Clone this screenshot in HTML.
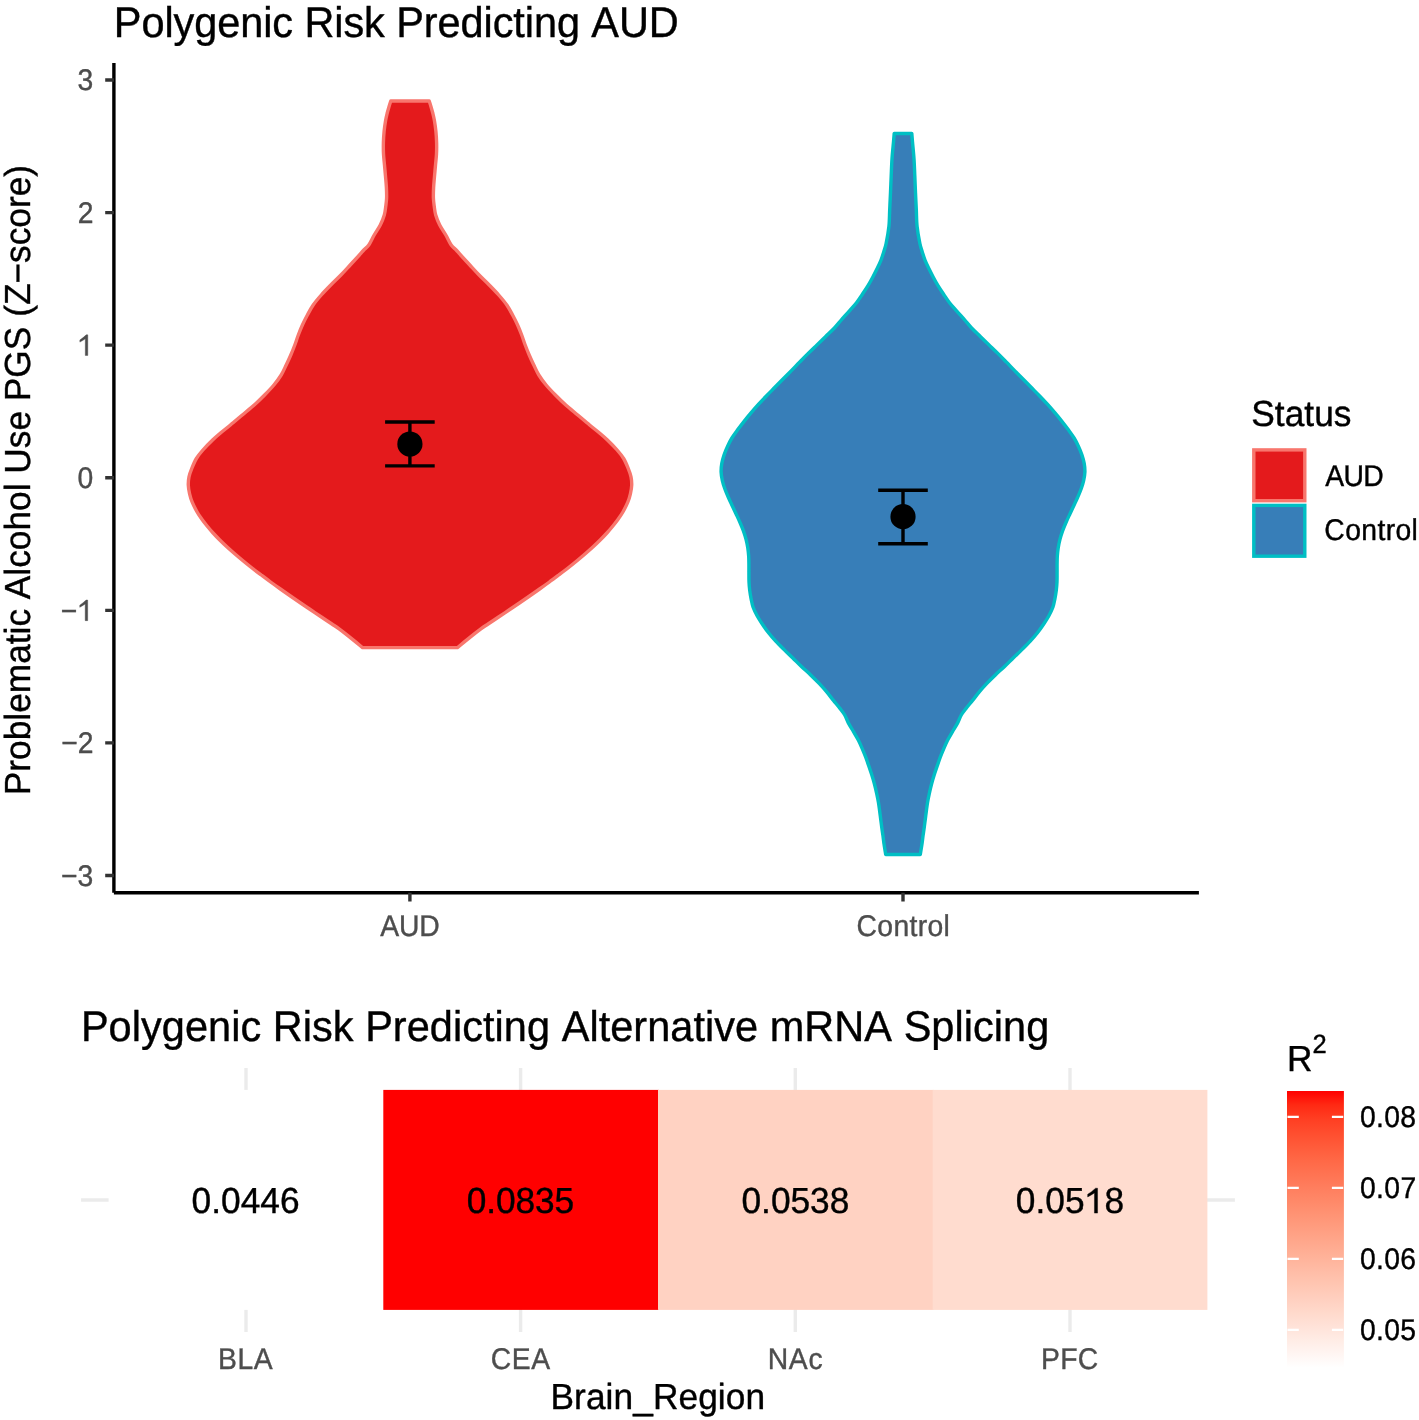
<!DOCTYPE html>
<html><head><meta charset="utf-8"><style>
html,body{margin:0;padding:0;background:#fff;overflow:hidden;}
svg{display:block;font-family:"Liberation Sans",sans-serif;text-rendering:geometricPrecision;will-change:transform;font-kerning:none;}
</style></head><body>
<svg xmlns="http://www.w3.org/2000/svg" width="1419" height="1420" viewBox="0 0 1419 1420">
<rect width="1419" height="1420" fill="#fff"/>
<text transform="translate(113.80,36.70) scale(1,1.033)" font-size="41.5" fill="#000" textLength="564.99" lengthAdjust="spacing" stroke="#000" stroke-width="0.387">Polygenic Risk Predicting AUD</text>
<path d="M429.20,101.00 C429.50,101.95 430.38,104.62 431.00,106.70 C431.62,108.78 432.33,111.20 432.90,113.50 C433.47,115.80 433.90,117.53 434.40,120.50 C434.90,123.47 435.53,127.63 435.90,131.30 C436.27,134.97 436.50,138.75 436.60,142.50 C436.70,146.25 436.68,150.03 436.50,153.80 C436.32,157.57 435.83,161.35 435.50,165.10 C435.17,168.85 434.82,172.55 434.50,176.30 C434.18,180.05 433.78,183.98 433.60,187.60 C433.42,191.22 433.30,194.93 433.40,198.00 C433.50,201.07 433.82,203.17 434.20,206.00 C434.58,208.83 434.78,211.83 435.70,215.00 C436.62,218.17 438.02,221.67 439.70,225.00 C441.38,228.33 443.88,231.67 445.80,235.00 C447.72,238.33 449.47,242.50 451.20,245.00 C452.93,247.50 454.63,248.33 456.20,250.00 C457.77,251.67 458.33,252.50 460.60,255.00 C462.87,257.50 466.72,261.67 469.80,265.00 C472.88,268.33 475.87,271.67 479.10,275.00 C482.33,278.33 485.93,281.67 489.20,285.00 C492.47,288.33 495.77,291.67 498.70,295.00 C501.63,298.33 504.48,301.67 506.80,305.00 C509.12,308.33 510.80,311.67 512.60,315.00 C514.40,318.33 516.08,321.67 517.60,325.00 C519.12,328.33 520.43,331.67 521.70,335.00 C522.97,338.33 523.95,341.67 525.20,345.00 C526.45,348.33 527.77,351.67 529.20,355.00 C530.63,358.33 532.20,361.67 533.80,365.00 C535.40,368.33 536.75,371.67 538.80,375.00 C540.85,378.33 543.33,381.67 546.10,385.00 C548.87,388.33 552.12,391.67 555.40,395.00 C558.68,398.33 562.08,401.67 565.80,405.00 C569.52,408.33 573.73,411.67 577.70,415.00 C581.67,418.33 585.97,422.00 589.60,425.00 C593.23,428.00 596.53,430.50 599.50,433.00 C602.47,435.50 604.47,437.17 607.40,440.00 C610.33,442.83 614.40,446.92 617.10,450.00 C619.80,453.08 621.75,455.43 623.60,458.50 C625.45,461.57 626.97,465.33 628.20,468.40 C629.43,471.47 630.42,474.08 631.00,476.90 C631.58,479.72 631.80,482.48 631.70,485.30 C631.60,488.12 631.05,490.98 630.40,493.80 C629.75,496.62 629.05,499.17 627.80,502.20 C626.55,505.23 624.48,509.20 622.90,512.00 C621.32,514.80 619.97,516.67 618.30,519.00 C616.63,521.33 614.80,523.67 612.90,526.00 C611.00,528.33 609.02,530.67 606.90,533.00 C604.78,535.33 602.53,537.67 600.20,540.00 C597.87,542.33 595.43,544.67 592.90,547.00 C590.37,549.33 587.70,551.67 585.00,554.00 C582.30,556.33 579.53,558.67 576.70,561.00 C573.87,563.33 570.98,565.67 568.00,568.00 C565.02,570.33 561.90,572.67 558.80,575.00 C555.70,577.33 552.60,579.67 549.40,582.00 C546.20,584.33 542.90,586.67 539.60,589.00 C536.30,591.33 532.97,593.67 529.60,596.00 C526.23,598.33 522.83,600.67 519.40,603.00 C515.97,605.33 512.47,607.67 509.00,610.00 C505.53,612.33 502.08,614.67 498.60,617.00 C495.12,619.33 491.05,622.02 488.10,624.00 C485.15,625.98 483.72,626.83 480.90,628.90 C478.08,630.97 475.12,633.28 471.20,636.40 C467.28,639.52 459.70,645.73 457.40,647.60 L362.60,647.60 C360.30,645.73 352.72,639.52 348.80,636.40 C344.88,633.28 341.92,630.97 339.10,628.90 C336.28,626.83 334.85,625.98 331.90,624.00 C328.95,622.02 324.88,619.33 321.40,617.00 C317.92,614.67 314.47,612.33 311.00,610.00 C307.53,607.67 304.03,605.33 300.60,603.00 C297.17,600.67 293.77,598.33 290.40,596.00 C287.03,593.67 283.70,591.33 280.40,589.00 C277.10,586.67 273.80,584.33 270.60,582.00 C267.40,579.67 264.30,577.33 261.20,575.00 C258.10,572.67 254.98,570.33 252.00,568.00 C249.02,565.67 246.13,563.33 243.30,561.00 C240.47,558.67 237.70,556.33 235.00,554.00 C232.30,551.67 229.63,549.33 227.10,547.00 C224.57,544.67 222.13,542.33 219.80,540.00 C217.47,537.67 215.22,535.33 213.10,533.00 C210.98,530.67 209.00,528.33 207.10,526.00 C205.20,523.67 203.37,521.33 201.70,519.00 C200.03,516.67 198.68,514.80 197.10,512.00 C195.52,509.20 193.45,505.23 192.20,502.20 C190.95,499.17 190.25,496.62 189.60,493.80 C188.95,490.98 188.40,488.12 188.30,485.30 C188.20,482.48 188.42,479.72 189.00,476.90 C189.58,474.08 190.57,471.47 191.80,468.40 C193.03,465.33 194.55,461.57 196.40,458.50 C198.25,455.43 200.20,453.08 202.90,450.00 C205.60,446.92 209.67,442.83 212.60,440.00 C215.53,437.17 217.53,435.50 220.50,433.00 C223.47,430.50 226.77,428.00 230.40,425.00 C234.03,422.00 238.33,418.33 242.30,415.00 C246.27,411.67 250.48,408.33 254.20,405.00 C257.92,401.67 261.32,398.33 264.60,395.00 C267.88,391.67 271.13,388.33 273.90,385.00 C276.67,381.67 279.15,378.33 281.20,375.00 C283.25,371.67 284.60,368.33 286.20,365.00 C287.80,361.67 289.37,358.33 290.80,355.00 C292.23,351.67 293.55,348.33 294.80,345.00 C296.05,341.67 297.03,338.33 298.30,335.00 C299.57,331.67 300.88,328.33 302.40,325.00 C303.92,321.67 305.60,318.33 307.40,315.00 C309.20,311.67 310.88,308.33 313.20,305.00 C315.52,301.67 318.37,298.33 321.30,295.00 C324.23,291.67 327.53,288.33 330.80,285.00 C334.07,281.67 337.67,278.33 340.90,275.00 C344.13,271.67 347.12,268.33 350.20,265.00 C353.28,261.67 357.13,257.50 359.40,255.00 C361.67,252.50 362.23,251.67 363.80,250.00 C365.37,248.33 367.07,247.50 368.80,245.00 C370.53,242.50 372.28,238.33 374.20,235.00 C376.12,231.67 378.62,228.33 380.30,225.00 C381.98,221.67 383.38,218.17 384.30,215.00 C385.22,211.83 385.42,208.83 385.80,206.00 C386.18,203.17 386.50,201.07 386.60,198.00 C386.70,194.93 386.58,191.22 386.40,187.60 C386.22,183.98 385.82,180.05 385.50,176.30 C385.18,172.55 384.83,168.85 384.50,165.10 C384.17,161.35 383.68,157.57 383.50,153.80 C383.32,150.03 383.30,146.25 383.40,142.50 C383.50,138.75 383.73,134.97 384.10,131.30 C384.47,127.63 385.10,123.47 385.60,120.50 C386.10,117.53 386.53,115.80 387.10,113.50 C387.67,111.20 388.38,108.78 389.00,106.70 C389.62,104.62 390.50,101.95 390.80,101.00 Z" fill="#E41A1C" stroke="#F8766D" stroke-width="3.4" stroke-linejoin="round"/>
<path d="M911.80,133.50 C911.92,134.90 912.13,137.68 912.50,141.90 C912.87,146.12 913.62,153.17 914.00,158.80 C914.38,164.43 914.55,170.05 914.80,175.70 C915.05,181.35 915.25,187.05 915.50,192.70 C915.75,198.35 916.03,203.97 916.30,209.60 C916.57,215.23 916.50,220.85 917.10,226.50 C917.70,232.15 919.03,239.27 919.90,243.50 C920.77,247.73 921.43,249.08 922.30,251.90 C923.17,254.72 923.98,257.58 925.10,260.40 C926.22,263.22 927.63,265.98 929.00,268.80 C930.37,271.62 931.80,274.48 933.30,277.30 C934.80,280.12 936.28,282.88 938.00,285.70 C939.72,288.52 941.68,291.37 943.60,294.20 C945.52,297.03 947.30,299.88 949.50,302.70 C951.70,305.52 954.32,308.28 956.80,311.10 C959.28,313.92 961.93,316.78 964.40,319.60 C966.87,322.42 968.95,325.18 971.60,328.00 C974.25,330.82 977.40,333.68 980.30,336.50 C983.20,339.32 986.08,342.08 989.00,344.90 C991.92,347.72 994.93,350.57 997.80,353.40 C1000.67,356.23 1003.43,359.07 1006.20,361.90 C1008.97,364.73 1011.65,367.58 1014.40,370.40 C1017.15,373.22 1019.92,375.98 1022.70,378.80 C1025.48,381.62 1028.32,384.48 1031.10,387.30 C1033.88,390.12 1036.68,392.88 1039.40,395.70 C1042.12,398.52 1044.83,401.37 1047.40,404.20 C1049.97,407.03 1052.42,409.88 1054.80,412.70 C1057.18,415.52 1059.47,418.28 1061.70,421.10 C1063.93,423.92 1066.13,426.78 1068.20,429.60 C1070.27,432.42 1072.38,435.18 1074.10,438.00 C1075.82,440.82 1077.20,443.68 1078.50,446.50 C1079.80,449.32 1080.95,452.08 1081.90,454.90 C1082.85,457.72 1083.70,460.57 1084.20,463.40 C1084.70,466.23 1084.98,469.07 1084.90,471.90 C1084.82,474.73 1084.32,477.58 1083.70,480.40 C1083.08,483.22 1082.20,485.98 1081.20,488.80 C1080.20,491.62 1078.93,494.48 1077.70,497.30 C1076.47,500.12 1075.12,502.88 1073.80,505.70 C1072.48,508.52 1071.12,511.37 1069.80,514.20 C1068.48,517.03 1067.12,519.88 1065.90,522.70 C1064.68,525.52 1063.50,528.28 1062.50,531.10 C1061.50,533.92 1060.62,536.78 1059.90,539.60 C1059.18,542.42 1058.63,545.18 1058.20,548.00 C1057.77,550.82 1057.48,553.68 1057.30,556.50 C1057.12,559.32 1057.13,562.08 1057.10,564.90 C1057.07,567.72 1057.12,570.57 1057.10,573.40 C1057.08,576.23 1057.13,579.07 1057.00,581.90 C1056.87,584.73 1056.65,587.58 1056.30,590.40 C1055.95,593.22 1055.47,595.98 1054.90,598.80 C1054.33,601.62 1053.90,604.48 1052.90,607.30 C1051.90,610.12 1050.45,612.88 1048.90,615.70 C1047.35,618.52 1045.50,621.37 1043.60,624.20 C1041.70,627.03 1039.72,629.88 1037.50,632.70 C1035.28,635.52 1032.90,638.28 1030.30,641.10 C1027.70,643.92 1024.75,646.78 1021.90,649.60 C1019.05,652.42 1016.08,655.18 1013.20,658.00 C1010.32,660.82 1007.57,663.68 1004.60,666.50 C1001.63,669.32 998.35,672.08 995.40,674.90 C992.45,677.72 989.58,680.57 986.90,683.40 C984.22,686.23 981.68,689.07 979.30,691.90 C976.92,694.73 974.75,697.72 972.60,700.40 C970.45,703.08 968.28,705.57 966.40,708.00 C964.52,710.43 962.80,712.43 961.30,715.00 C959.80,717.57 958.88,720.58 957.40,723.40 C955.92,726.22 954.03,729.08 952.40,731.90 C950.77,734.72 949.05,737.48 947.60,740.30 C946.15,743.12 944.92,745.98 943.70,748.80 C942.48,751.62 941.37,754.38 940.30,757.20 C939.23,760.02 938.27,762.88 937.30,765.70 C936.33,768.52 935.43,771.13 934.50,774.10 C933.57,777.07 932.57,780.25 931.70,783.50 C930.83,786.75 929.98,790.47 929.30,793.60 C928.62,796.73 928.08,799.45 927.60,802.30 C927.12,805.15 926.78,807.88 926.40,810.70 C926.02,813.52 925.67,816.37 925.30,819.20 C924.93,822.03 924.58,824.88 924.20,827.70 C923.82,830.52 923.38,833.28 923.00,836.10 C922.62,838.92 922.35,841.53 921.90,844.60 C921.45,847.67 920.57,852.85 920.30,854.50 L885.70,854.50 C885.43,852.85 884.55,847.67 884.10,844.60 C883.65,841.53 883.38,838.92 883.00,836.10 C882.62,833.28 882.18,830.52 881.80,827.70 C881.42,824.88 881.07,822.03 880.70,819.20 C880.33,816.37 879.98,813.52 879.60,810.70 C879.22,807.88 878.88,805.15 878.40,802.30 C877.92,799.45 877.38,796.73 876.70,793.60 C876.02,790.47 875.17,786.75 874.30,783.50 C873.43,780.25 872.43,777.07 871.50,774.10 C870.57,771.13 869.67,768.52 868.70,765.70 C867.73,762.88 866.77,760.02 865.70,757.20 C864.63,754.38 863.52,751.62 862.30,748.80 C861.08,745.98 859.85,743.12 858.40,740.30 C856.95,737.48 855.23,734.72 853.60,731.90 C851.97,729.08 850.08,726.22 848.60,723.40 C847.12,720.58 846.20,717.57 844.70,715.00 C843.20,712.43 841.48,710.43 839.60,708.00 C837.72,705.57 835.55,703.08 833.40,700.40 C831.25,697.72 829.08,694.73 826.70,691.90 C824.32,689.07 821.78,686.23 819.10,683.40 C816.42,680.57 813.55,677.72 810.60,674.90 C807.65,672.08 804.37,669.32 801.40,666.50 C798.43,663.68 795.68,660.82 792.80,658.00 C789.92,655.18 786.95,652.42 784.10,649.60 C781.25,646.78 778.30,643.92 775.70,641.10 C773.10,638.28 770.72,635.52 768.50,632.70 C766.28,629.88 764.30,627.03 762.40,624.20 C760.50,621.37 758.65,618.52 757.10,615.70 C755.55,612.88 754.10,610.12 753.10,607.30 C752.10,604.48 751.67,601.62 751.10,598.80 C750.53,595.98 750.05,593.22 749.70,590.40 C749.35,587.58 749.13,584.73 749.00,581.90 C748.87,579.07 748.92,576.23 748.90,573.40 C748.88,570.57 748.93,567.72 748.90,564.90 C748.87,562.08 748.88,559.32 748.70,556.50 C748.52,553.68 748.23,550.82 747.80,548.00 C747.37,545.18 746.82,542.42 746.10,539.60 C745.38,536.78 744.50,533.92 743.50,531.10 C742.50,528.28 741.32,525.52 740.10,522.70 C738.88,519.88 737.52,517.03 736.20,514.20 C734.88,511.37 733.52,508.52 732.20,505.70 C730.88,502.88 729.53,500.12 728.30,497.30 C727.07,494.48 725.80,491.62 724.80,488.80 C723.80,485.98 722.92,483.22 722.30,480.40 C721.68,477.58 721.18,474.73 721.10,471.90 C721.02,469.07 721.30,466.23 721.80,463.40 C722.30,460.57 723.15,457.72 724.10,454.90 C725.05,452.08 726.20,449.32 727.50,446.50 C728.80,443.68 730.18,440.82 731.90,438.00 C733.62,435.18 735.73,432.42 737.80,429.60 C739.87,426.78 742.07,423.92 744.30,421.10 C746.53,418.28 748.82,415.52 751.20,412.70 C753.58,409.88 756.03,407.03 758.60,404.20 C761.17,401.37 763.88,398.52 766.60,395.70 C769.32,392.88 772.12,390.12 774.90,387.30 C777.68,384.48 780.52,381.62 783.30,378.80 C786.08,375.98 788.85,373.22 791.60,370.40 C794.35,367.58 797.03,364.73 799.80,361.90 C802.57,359.07 805.33,356.23 808.20,353.40 C811.07,350.57 814.08,347.72 817.00,344.90 C819.92,342.08 822.80,339.32 825.70,336.50 C828.60,333.68 831.75,330.82 834.40,328.00 C837.05,325.18 839.13,322.42 841.60,319.60 C844.07,316.78 846.72,313.92 849.20,311.10 C851.68,308.28 854.30,305.52 856.50,302.70 C858.70,299.88 860.48,297.03 862.40,294.20 C864.32,291.37 866.28,288.52 868.00,285.70 C869.72,282.88 871.20,280.12 872.70,277.30 C874.20,274.48 875.63,271.62 877.00,268.80 C878.37,265.98 879.78,263.22 880.90,260.40 C882.02,257.58 882.83,254.72 883.70,251.90 C884.57,249.08 885.23,247.73 886.10,243.50 C886.97,239.27 888.30,232.15 888.90,226.50 C889.50,220.85 889.43,215.23 889.70,209.60 C889.97,203.97 890.25,198.35 890.50,192.70 C890.75,187.05 890.95,181.35 891.20,175.70 C891.45,170.05 891.62,164.43 892.00,158.80 C892.38,153.17 893.13,146.12 893.50,141.90 C893.87,137.68 894.08,134.90 894.20,133.50 Z" fill="#377EB8" stroke="#00BFC4" stroke-width="3.4" stroke-linejoin="round"/>
<path d="M385.10,422.0 H434.70 M409.90,422.0 V465.9 M385.10,465.9 H434.70" stroke="#000" stroke-width="3.4" fill="none"/>
<circle cx="409.9" cy="444.0" r="12.6" fill="#000"/>
<path d="M878.20,490.2 H927.80 M903.00,490.2 V543.8 M878.20,543.8 H927.80" stroke="#000" stroke-width="3.4" fill="none"/>
<circle cx="903.0" cy="516.7" r="12.6" fill="#000"/>
<path d="M113.9,63 V892.7 M113.9,892.7 H1198.9" stroke="#000" stroke-width="3.4" fill="none" stroke-linecap="butt"/>
<path d="M105.2,80.01 H113.9 M105.2,212.59 H113.9 M105.2,345.17 H113.9 M105.2,477.75 H113.9 M105.2,610.33 H113.9 M105.2,742.91 H113.9 M105.2,875.49 H113.9 M409.9,892.7 V901.5 M903.0,892.7 V901.5 " stroke="#333333" stroke-width="3.4" fill="none"/>
<text transform="translate(77.60,90.31) scale(1,1.058)" font-size="28.3" fill="#4D4D4D" stroke="#4D4D4D" stroke-width="0.378">3</text>
<text transform="translate(77.78,222.89) scale(1,1.058)" font-size="28.3" fill="#4D4D4D" stroke="#4D4D4D" stroke-width="0.378">2</text>
<path transform="translate(77.24,355.47) scale(0.01382,-0.01462)" d="M583,0 L763,0 L763,1409 L650,1409 Q440,1215 190,1060 L190,915 Q400,1020 583,1140 Z" fill="#4D4D4D" stroke="#4D4D4D" stroke-width="28.9" stroke-linejoin="round"/>
<text transform="translate(77.47,488.05) scale(1,1.058)" font-size="28.3" fill="#4D4D4D" stroke="#4D4D4D" stroke-width="0.378">0</text>
<text transform="translate(60.80,620.63) scale(1,1.058)" font-size="28.3" fill="#4D4D4D" textLength="16.08" lengthAdjust="spacing" stroke="#4D4D4D" stroke-width="0.378">−</text>
<path transform="translate(77.14,620.63) scale(0.01382,-0.01462)" d="M583,0 L763,0 L763,1409 L650,1409 Q440,1215 190,1060 L190,915 Q400,1020 583,1140 Z" fill="#4D4D4D" stroke="#4D4D4D" stroke-width="28.9" stroke-linejoin="round"/>
<text transform="translate(61.26,753.21) scale(1,1.058)" font-size="28.3" fill="#4D4D4D" stroke="#4D4D4D" stroke-width="0.378">−2</text>
<text transform="translate(61.08,885.79) scale(1,1.058)" font-size="28.3" fill="#4D4D4D" stroke="#4D4D4D" stroke-width="0.378">−3</text>
<text transform="translate(380.24,935.80) scale(1,1.058)" font-size="28.3" fill="#4D4D4D" textLength="59.51" lengthAdjust="spacing" stroke="#4D4D4D" stroke-width="0.378">AUD</text>
<text transform="translate(856.56,935.60) scale(1,1.058)" font-size="28.3" fill="#4D4D4D" textLength="93.23" lengthAdjust="spacing" stroke="#4D4D4D" stroke-width="0.378">Control</text>
<text transform="translate(30.10,795.20) rotate(-90) scale(1,1.026)" font-size="35.3" fill="#000" stroke="#000" stroke-width="0.390" textLength="630.28" lengthAdjust="spacing">Problematic Alcohol Use PGS (Z−score)</text>
<text transform="translate(1251.30,425.90) scale(1,1.026)" font-size="35.3" fill="#000" textLength="100.18" lengthAdjust="spacing" stroke="#000" stroke-width="0.390">Status</text>
<rect x="1253.80" y="449.90" width="51.00" height="50.80" fill="#E41A1C" stroke="#F8766D" stroke-width="3.4"/>
<rect x="1253.80" y="505.40" width="51.00" height="50.80" fill="#377EB8" stroke="#00BFC4" stroke-width="3.4"/>
<text transform="translate(1325.14,485.50) scale(1,1.058)" font-size="28.3" fill="#000" textLength="58.51" lengthAdjust="spacing" stroke="#000" stroke-width="0.378">AUD</text>
<text transform="translate(1324.36,540.30) scale(1,1.058)" font-size="28.3" fill="#000" textLength="93.53" lengthAdjust="spacing" stroke="#000" stroke-width="0.378">Control</text>
<text transform="translate(80.90,1040.70) scale(1,1.033)" font-size="41.5" fill="#000" textLength="968.38" lengthAdjust="spacing" stroke="#000" stroke-width="0.387">Polygenic Risk Predicting Alternative mRNA Splicing</text>
<path d="M246.0,1067.9 V1331.9 M520.6,1067.9 V1331.9 M795.3,1067.9 V1331.9 M1070.0,1067.9 V1331.9 M81.1,1200.0 H1234.9" stroke="#EBEBEB" stroke-width="3.4" fill="none"/>
<rect x="108.6" y="1089.9" width="275.70" height="220.0" fill="#FFFFFF"/>
<rect x="383.3" y="1089.9" width="275.70" height="220.0" fill="#FF0000"/>
<rect x="658.0" y="1089.9" width="275.70" height="220.0" fill="#FFD2C2"/>
<rect x="932.7" y="1089.9" width="274.70" height="220.0" fill="#FFDCCF"/>
<text transform="translate(191.62,1213.10) scale(1,1.026)" font-size="35.3" fill="#000" textLength="108.03" lengthAdjust="spacing" stroke="#000" stroke-width="0.390">0.0446</text>
<text transform="translate(217.98,1368.80) scale(1,1.058)" font-size="28.3" fill="#4D4D4D" textLength="54.78" lengthAdjust="spacing" stroke="#4D4D4D" stroke-width="0.378">BLA</text>
<text transform="translate(466.82,1213.10) scale(1,1.026)" font-size="35.3" fill="#000" textLength="107.36" lengthAdjust="spacing" stroke="#000" stroke-width="0.390">0.0835</text>
<text transform="translate(490.66,1368.80) scale(1,1.058)" font-size="28.3" fill="#4D4D4D" textLength="59.39" lengthAdjust="spacing" stroke="#4D4D4D" stroke-width="0.378">CEA</text>
<text transform="translate(741.52,1213.10) scale(1,1.026)" font-size="35.3" fill="#000" textLength="107.81" lengthAdjust="spacing" stroke="#000" stroke-width="0.390">0.0538</text>
<text transform="translate(767.78,1368.80) scale(1,1.058)" font-size="28.3" fill="#4D4D4D" textLength="54.77" lengthAdjust="spacing" stroke="#4D4D4D" stroke-width="0.378">NAc</text>
<text transform="translate(1015.72,1213.10) scale(1,1.026)" font-size="35.3" fill="#000" textLength="108.51" lengthAdjust="spacing" stroke="#000" stroke-width="0.390">0.05 8</text>
<path transform="translate(1084.40,1213.10) scale(0.01724,-0.01768)" d="M583,0 L763,0 L763,1409 L650,1409 Q440,1215 190,1060 L190,915 Q400,1020 583,1140 Z" fill="#000" stroke="#000" stroke-width="23.2" stroke-linejoin="round"/>
<text transform="translate(1040.88,1368.80) scale(1,1.058)" font-size="28.3" fill="#4D4D4D" textLength="57.40" lengthAdjust="spacing" stroke="#4D4D4D" stroke-width="0.378">PFC</text>
<text transform="translate(550.50,1408.60) scale(1,1.026)" font-size="35.3" fill="#000" textLength="214.59" lengthAdjust="spacing" stroke="#000" stroke-width="0.390">Brain_Region</text>
<defs><linearGradient id="cb" x1="0" y1="0" x2="0" y2="1"><stop offset="0.000" stop-color="#FF0000"/><stop offset="0.050" stop-color="#FF2913"/><stop offset="0.100" stop-color="#FF3E22"/><stop offset="0.150" stop-color="#FF4D2E"/><stop offset="0.200" stop-color="#FF5B3A"/><stop offset="0.250" stop-color="#FF6846"/><stop offset="0.300" stop-color="#FF7352"/><stop offset="0.350" stop-color="#FF7E5E"/><stop offset="0.400" stop-color="#FF8969"/><stop offset="0.450" stop-color="#FF9475"/><stop offset="0.500" stop-color="#FF9E81"/><stop offset="0.550" stop-color="#FFA88D"/><stop offset="0.600" stop-color="#FFB299"/><stop offset="0.650" stop-color="#FFBCA6"/><stop offset="0.700" stop-color="#FFC6B2"/><stop offset="0.750" stop-color="#FFCFBF"/><stop offset="0.800" stop-color="#FFD9CB"/><stop offset="0.850" stop-color="#FFE2D8"/><stop offset="0.900" stop-color="#FFECE5"/><stop offset="0.950" stop-color="#FFF5F2"/><stop offset="1.000" stop-color="#FFFFFF"/></linearGradient></defs>
<rect x="1287.0" y="1091.0" width="56.9" height="276.7" fill="url(#cb)"/>
<text transform="translate(1359.89,1340.10) scale(1,1.058)" font-size="28.3" fill="#000" textLength="56.09" lengthAdjust="spacing" stroke="#000" stroke-width="0.378">0.05</text>
<text transform="translate(1359.89,1269.10) scale(1,1.058)" font-size="28.3" fill="#000" textLength="56.15" lengthAdjust="spacing" stroke="#000" stroke-width="0.378">0.06</text>
<text transform="translate(1359.89,1198.10) scale(1,1.058)" font-size="28.3" fill="#000" textLength="56.33" lengthAdjust="spacing" stroke="#000" stroke-width="0.378">0.07</text>
<text transform="translate(1359.89,1127.10) scale(1,1.058)" font-size="28.3" fill="#000" textLength="56.14" lengthAdjust="spacing" stroke="#000" stroke-width="0.378">0.08</text>
<path d="M1287.5,1329.80 H1298.8 M1331.9,1329.80 H1343.2 M1287.5,1258.80 H1298.8 M1331.9,1258.80 H1343.2 M1287.5,1187.80 H1298.8 M1331.9,1187.80 H1343.2 M1287.5,1116.80 H1298.8 M1331.9,1116.80 H1343.2 " stroke="#FFFFFF" stroke-width="2.2" fill="none"/>
<text transform="translate(1287.10,1070.70) scale(1,1.026)" font-size="35.3" fill="#000" stroke="#000" stroke-width="0.390">R</text>
<text transform="translate(1312.52,1052.80) scale(1,1.026)" font-size="25.5" fill="#000" stroke="#000" stroke-width="0.390">2</text>
</svg></body></html>
